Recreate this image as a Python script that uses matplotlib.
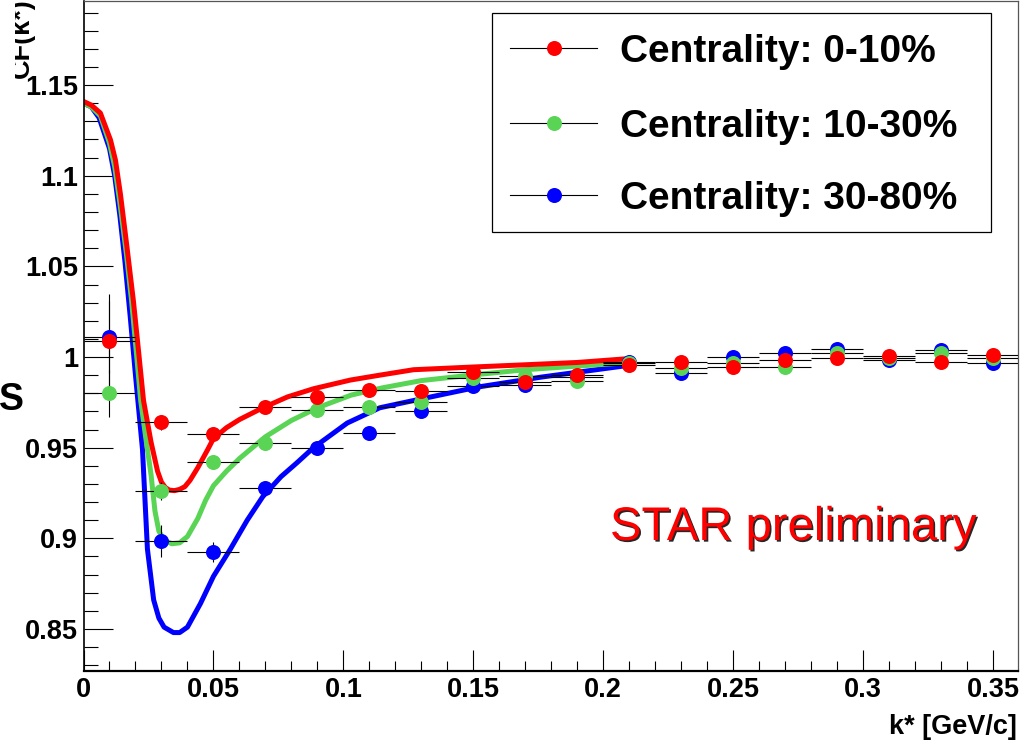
import numpy as np
import matplotlib
matplotlib.use("Agg")
import matplotlib.pyplot as plt
from matplotlib.ticker import MultipleLocator, FuncFormatter
from matplotlib.patches import Rectangle
from matplotlib.lines import Line2D
from matplotlib.transforms import Bbox, TransformedBbox
import matplotlib.patheffects as pe

plt.rcParams['font.family'] = ['Liberation Sans', 'DejaVu Sans']

# measured correlation function, k* bin centres (bin width 0.02 GeV/c)
kstar = [0.01, 0.03, 0.05, 0.07, 0.09, 0.11, 0.13, 0.15, 0.17, 0.19,
         0.21, 0.23, 0.25, 0.27, 0.29, 0.31, 0.33, 0.35]
k_halfwidth = 0.01

cf_0_10 = [1.0088, 0.964, 0.9575, 0.9724, 0.978, 0.982, 0.9814, 0.9919, 0.9864, 0.990,
           0.9956, 0.9974, 0.9947, 0.9983, 0.9993, 1.0005, 0.9974, 1.0011]
err_0_10 = [0.026, 0.004, 0.004, 0.003, 0.003, 0.003, 0.003, 0.002, 0.002, 0.002,
            0.002, 0.002, 0.002, 0.002, 0.002, 0.002, 0.002, 0.002]

cf_10_30 = [0.980, 0.926, 0.942, 0.9526, 0.9708, 0.9724, 0.9753, 0.9882, 0.9895, 0.987,
            0.9965, 0.994, 0.9965, 0.9947, 1.002, 0.9993, 1.002, 0.9993]
err_10_30 = [0.013, 0.005, 0.004, 0.004, 0.003, 0.003, 0.003, 0.002, 0.002, 0.002,
             0.002, 0.002, 0.002, 0.002, 0.002, 0.002, 0.002, 0.002]

cf_30_80 = [1.011, 0.8985, 0.8925, 0.9277, 0.9498, 0.958, 0.970, 0.984, 0.9846, 0.989,
            0.9974, 0.991, 1.0002, 1.002, 1.0042, 0.9983, 1.0039, 0.9965]
err_30_80 = [0.020, 0.009, 0.0055, 0.004, 0.004, 0.003, 0.003, 0.003, 0.002, 0.002,
             0.002, 0.002, 0.002, 0.002, 0.002, 0.002, 0.002, 0.002]

# fit curves
fit_k_0_10 = [0.0, 0.003, 0.0065, 0.0104, 0.0123, 0.0142, 0.0167, 0.0192, 0.0212, 0.0231,
              0.026, 0.0285, 0.030, 0.0315, 0.033, 0.035, 0.037, 0.039, 0.041, 0.044,
              0.0477, 0.050, 0.055, 0.060, 0.069, 0.0785, 0.0885, 0.1027, 0.114, 0.127,
              0.150, 0.168, 0.190, 0.2077]
fit_0_10 = [1.141, 1.139, 1.1346, 1.1197, 1.1086, 1.090, 1.061, 1.031, 1.003, 0.976,
            0.953, 0.937, 0.931, 0.928, 0.9266, 0.9263, 0.927, 0.9285, 0.932, 0.939,
            0.9487, 0.955, 0.961, 0.9655, 0.972, 0.978, 0.9825, 0.9873, 0.990, 0.993,
            0.9945, 0.9956, 0.997, 0.9989]

fit_k_10_30 = [0.0, 0.003, 0.0065, 0.010, 0.012, 0.014, 0.0165, 0.0185, 0.0205, 0.022,
               0.024, 0.026, 0.0275, 0.029, 0.031, 0.034, 0.037, 0.040, 0.044, 0.047,
               0.050, 0.055, 0.060, 0.065, 0.070, 0.080, 0.090, 0.103, 0.115, 0.130,
               0.149, 0.170, 0.190, 0.208]
fit_10_30 = [1.140, 1.138, 1.133, 1.118, 1.105, 1.085, 1.057, 1.031, 1.000, 0.976,
             0.955, 0.935, 0.915, 0.904, 0.899, 0.897, 0.8975, 0.901, 0.911, 0.921,
             0.929, 0.937, 0.944, 0.950, 0.956, 0.965, 0.972, 0.979, 0.983, 0.987,
             0.990, 0.993, 0.995, 0.9967]

fit_k_30_80 = [0.0, 0.003, 0.006, 0.010, 0.012, 0.014, 0.016, 0.018, 0.020, 0.0227,
               0.0246, 0.027, 0.029, 0.031, 0.0346, 0.037, 0.040, 0.045, 0.050, 0.0565,
               0.063, 0.069, 0.076, 0.082, 0.0885, 0.1015, 0.114, 0.127, 0.152, 0.1765,
               0.2077]
fit_30_80 = [1.140, 1.138, 1.132, 1.115, 1.100, 1.078, 1.052, 1.022, 0.990, 0.949,
             0.894, 0.866, 0.856, 0.851, 0.848, 0.848, 0.851, 0.864, 0.879, 0.894,
             0.910, 0.923, 0.934, 0.9415, 0.950, 0.9636, 0.972, 0.976, 0.9835, 0.989,
             0.995]

labels = ['Centrality: 0-10%', 'Centrality: 10-30%', 'Centrality: 30-80%']
colors = ['#ff0000', '#59d454', '#0000ff']

W, H = 1023, 741


def fx(px):
    return px / W


def fy(py):
    return 1 - py / H


fig = plt.figure(figsize=(W / 100, H / 100), dpi=100)
ax = fig.add_axes([fx(83.5), fy(671), (1018 - 83.5) / W, 670 / H])

series = [
    (kstar, cf_30_80, err_30_80, fit_k_30_80, fit_30_80, colors[2]),
    (kstar, cf_10_30, err_10_30, fit_k_10_30, fit_10_30, colors[1]),
    (kstar, cf_0_10, err_0_10, fit_k_0_10, fit_0_10, colors[0]),
]

for _, _, _, fk, fv, c in series:
    ax.plot(fk, fv, color=c, lw=3.6, solid_joinstyle='round', zorder=2)

for k, v, e, _, _, c in series:
    ax.errorbar(k, v, xerr=k_halfwidth, yerr=e, fmt='o', color=c, ecolor='black',
                elinewidth=0.8, capsize=0, markersize=10.8, markeredgewidth=0, zorder=3)

ax.set_xlim(0, 0.3596)
ax.set_ylim(0.8268, 1.1964)

fmt = FuncFormatter(lambda v, p: f'{v:g}')
ax.xaxis.set_major_locator(MultipleLocator(0.05))
ax.xaxis.set_minor_locator(MultipleLocator(0.01))
ax.yaxis.set_major_locator(MultipleLocator(0.05))
ax.yaxis.set_minor_locator(MultipleLocator(0.01))
ax.xaxis.set_major_formatter(fmt)
ax.yaxis.set_major_formatter(fmt)

ax.tick_params(axis='both', which='both', direction='in', top=False, right=False,
               width=0.8, labelsize=19.5)
ax.tick_params(axis='x', which='major', length=15, pad=4)
ax.tick_params(axis='x', which='minor', length=7.5)
ax.tick_params(axis='y', which='major', length=21, pad=4)
ax.tick_params(axis='y', which='minor', length=10)
for lab in ax.get_xticklabels() + ax.get_yticklabels():
    lab.set_fontweight('bold')

ax.spines['left'].set_linewidth(1.2)
ax.spines['bottom'].set_linewidth(1.6)
for s in ('top', 'right'):
    ax.spines[s].set_linewidth(0.9)
    ax.spines[s].set_color('#555555')

fig.text(fx(1017), fy(734), 'k* [GeV/c]', ha='right', va='baseline',
         fontsize=19.5, fontweight='bold')

# axis title, partly cut at the left pad edge
ytitle = fig.text(fx(29), fy(78), 'CF(k*)', rotation=90, rotation_mode='anchor',
                  ha='left', va='baseline', fontsize=19.5, fontweight='bold')
ytitle.set_clip_box(TransformedBbox(Bbox([[fx(15), 0], [1, 1]]), fig.transFigure))
fig.patches.append(Rectangle((0, fy(84)), fx(15), fy(0) - fy(84), transform=fig.transFigure,
                             facecolor='white', edgecolor='none', zorder=10))

fig.text(fx(23.5), fy(410), 'S', ha='right', va='baseline', fontsize=27, fontweight='bold')

# legend box
leg_box = Rectangle((fx(492), fy(232)), fx(991) - fx(492), fy(13) - fy(232),
                    transform=fig.transFigure, facecolor='white', edgecolor='black',
                    lw=0.9, zorder=5)
fig.patches.append(leg_box)
for i, (lab, c) in enumerate(zip(labels, colors)):
    yy = fy([48, 123, 195][i])
    fig.lines.append(Line2D([fx(510), fx(597)], [yy, yy], transform=fig.transFigure,
                            color='black', lw=0.8, zorder=6))
    fig.lines.append(Line2D([fx(553.5)], [yy], transform=fig.transFigure, marker='o',
                            color=c, markersize=10.8, markeredgewidth=0, zorder=7))
    fig.text(fx(620), yy, lab, ha='left', va='center_baseline', fontsize=28,
             fontweight='bold', zorder=8)

ax.text(fx(610), fy(540), 'STAR preliminary', transform=fig.transFigure,
        color='#ff0000', fontsize=34, ha='left', va='baseline',
        path_effects=[pe.withSimplePatchShadow(offset=(1.2, -1.2),
                                                shadow_rgbFace='black', alpha=0.85)])

fig.savefig('out.png', dpi=100)
